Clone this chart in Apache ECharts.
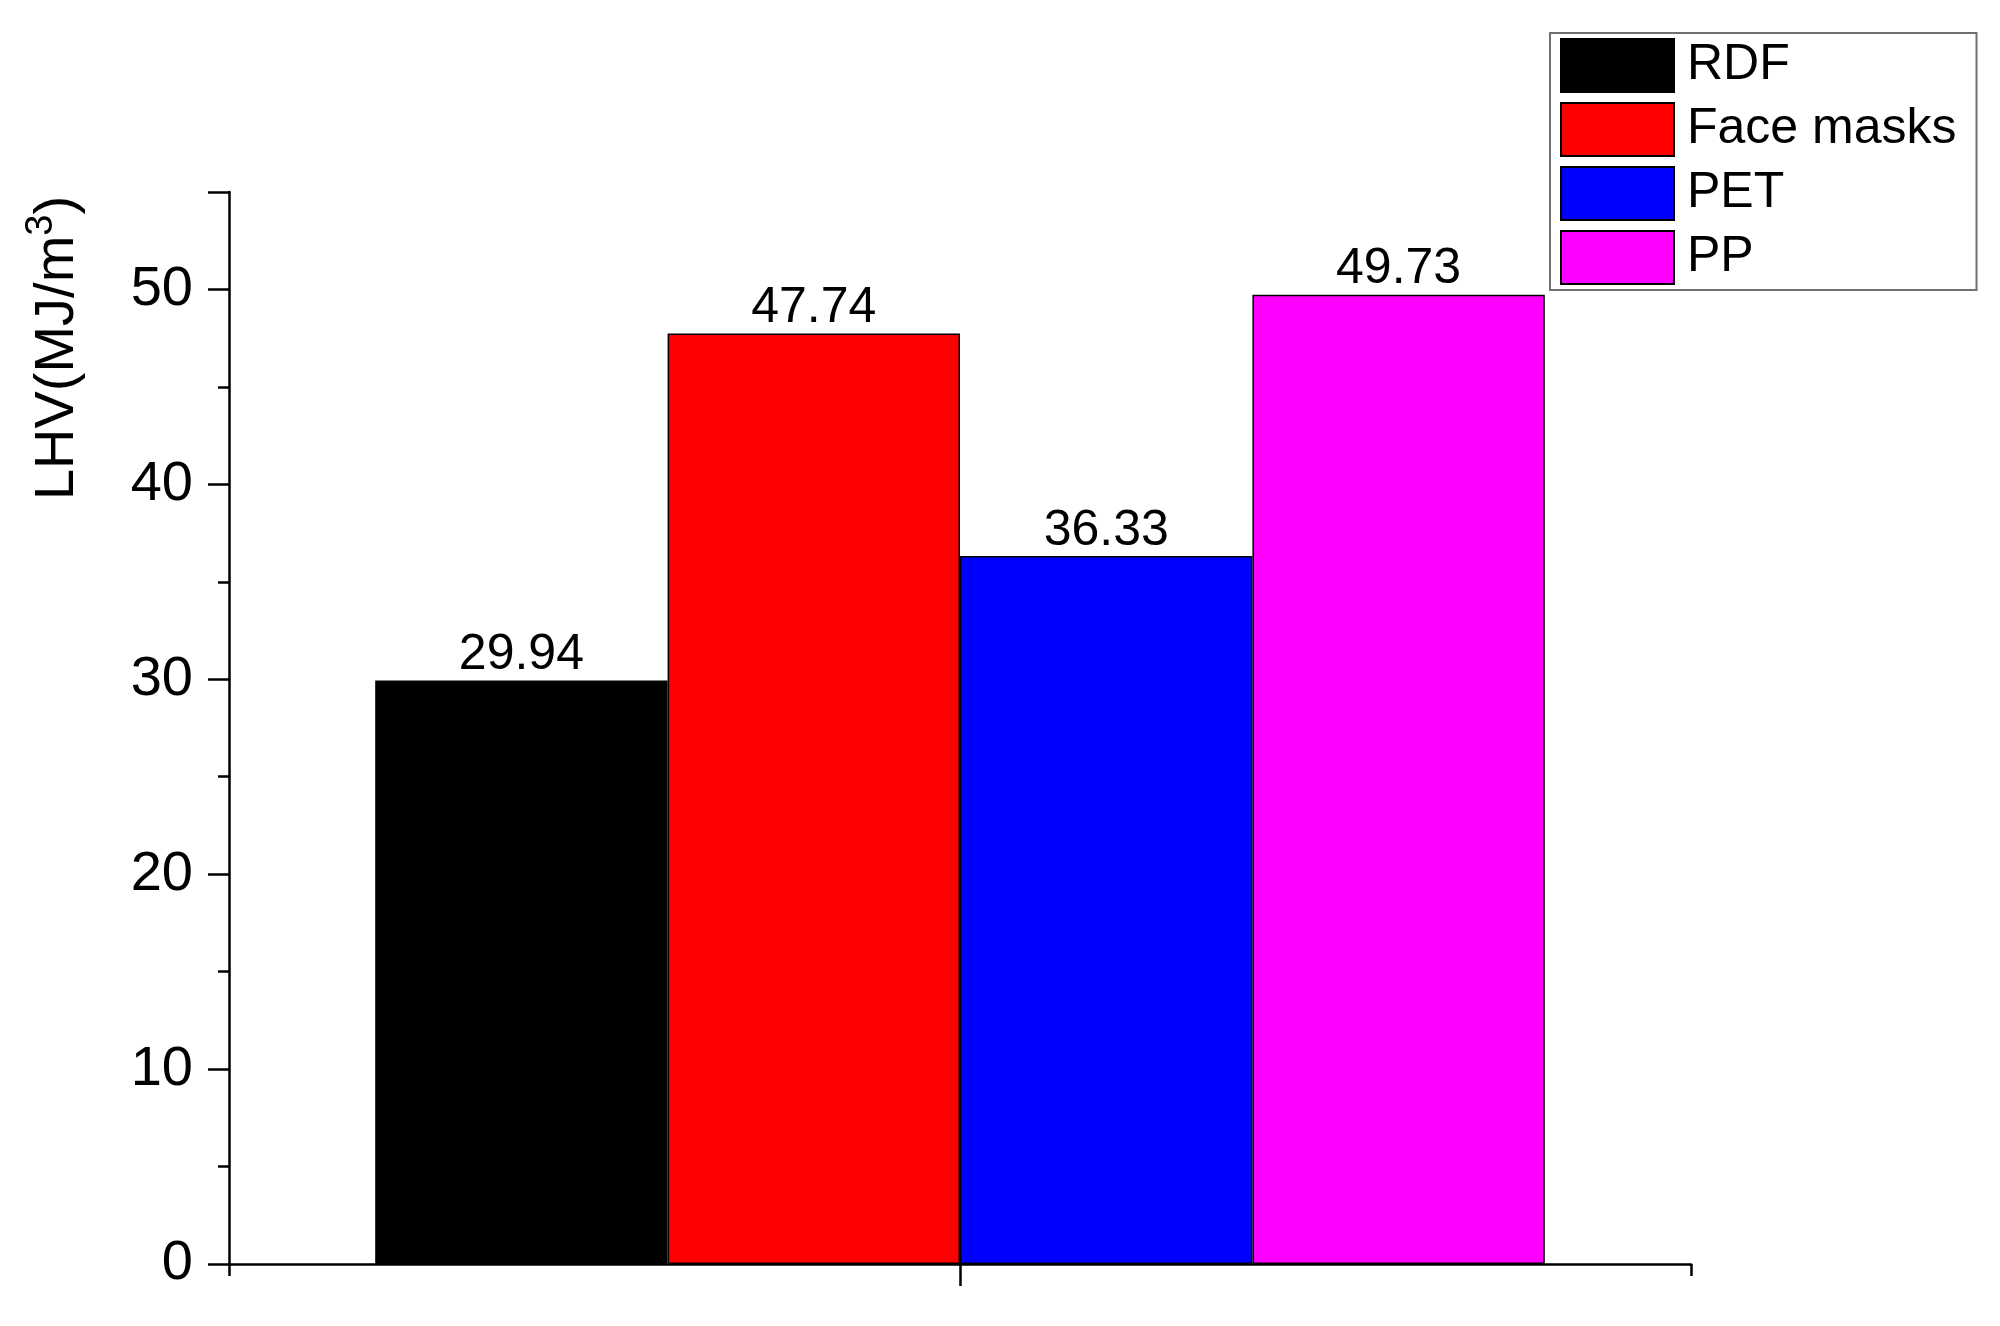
<!DOCTYPE html>
<html>
<head>
<meta charset="utf-8">
<script src="https://cdn.jsdelivr.net/npm/echarts@6/dist/echarts.min.js"></script>
<style>
html,body{margin:0;padding:0;background:#fff;}
#chart{width:2000px;height:1326px;}
</style>
</head>
<body>
<div id="chart"></div>
<script>
const categories = [''];
const seriesNames = ['RDF', 'Face masks', 'PET', 'PP'];
const seriesValues = [29.94, 47.74, 36.33, 49.73];
const seriesColors = ['#000000', '#ff0000', '#0000ff', '#ff00ff'];
const yMax = 55;

const FONT = '"Liberation Sans", Arial, sans-serif';
const chart = echarts.init(document.getElementById('chart'));

const series = seriesNames.map((name, i) => ({
  name: name,
  type: 'bar',
  xAxisIndex: 0,
  yAxisIndex: 0,
  data: [seriesValues[i]],
  barGap: '0%',
  barCategoryGap: '20%',
  itemStyle: { color: seriesColors[i], borderColor: '#000', borderWidth: 1.5 },
  label: {
    show: true, position: 'top', distance: 0,
    color: '#000', fontFamily: FONT, fontSize: 50,
    formatter: p => p.value.toFixed(2)
  }
}));

chart.setOption({
  backgroundColor: '#fff',
  animation: false,
  grid: { left: 229, right: 309, top: 192, bottom: 62, containLabel: false },
  legend: {
    orient: 'vertical', left: 1550, top: 33,
    data: seriesNames,
    itemWidth: 113, itemHeight: 53, itemGap: 9,
    padding: [5, 20, 5, 10],
    borderColor: '#707070', borderWidth: 2, backgroundColor: '#fff',
    textStyle: { color: '#000', fontFamily: FONT, fontSize: 50, padding: [0, 0, 0, 8] },
    icon: 'rect'
  },
  xAxis: [
    {
      type: 'category', data: categories, position: 'bottom',
      axisLine: { show: true, onZero: false, lineStyle: { color: '#000', width: 2.5 } },
      axisTick: { show: true, alignWithLabel: true, length: 22, lineStyle: { color: '#000', width: 2.5 } },
      axisLabel: { show: false },
      splitLine: { show: false }
    },
    {
      type: 'value', min: 0, max: 1, interval: 1, position: 'bottom',
      axisLine: { show: false, onZero: false },
      axisTick: { show: true, length: 12, lineStyle: { color: '#000', width: 2.5 } },
      axisLabel: { show: false },
      splitLine: { show: false }
    }
  ],
  yAxis: [
    {
      type: 'value', min: 0, max: yMax, interval: 10,
      axisLine: { show: true, onZero: false, lineStyle: { color: '#000', width: 2.5 } },
      axisTick: { show: true, length: 21, lineStyle: { color: '#000', width: 2.5 } },
      axisLabel: {
        color: '#000', fontFamily: FONT, fontSize: 56, margin: 36,
        formatter: v => (v % 10 === 0 ? String(v) : '')
      },
      splitLine: { show: false }
    },
    {
      type: 'value', min: 0, max: yMax, interval: 5, position: 'left',
      axisLine: { show: false, onZero: false },
      axisTick: { show: true, length: 11, lineStyle: { color: '#000', width: 2.5 } },
      axisLabel: { show: false },
      splitLine: { show: false }
    }
  ],
  graphic: [{
    type: 'text',
    x: 58, y: 348,
    rotation: Math.PI / 2,
    style: {
      text: '{m|LHV(MJ/m}{s|3}{m|)}',
      align: 'center', verticalAlign: 'middle',
      rich: {
        m: { fontFamily: FONT, fontSize: 56, fill: '#000', color: '#000', lineHeight: 70 },
        s: { fontFamily: FONT, fontSize: 38, fill: '#000', color: '#000', verticalAlign: 'top', lineHeight: 40 }
      }
    }
  }],
  series: series
});
</script>
</body>
</html>
